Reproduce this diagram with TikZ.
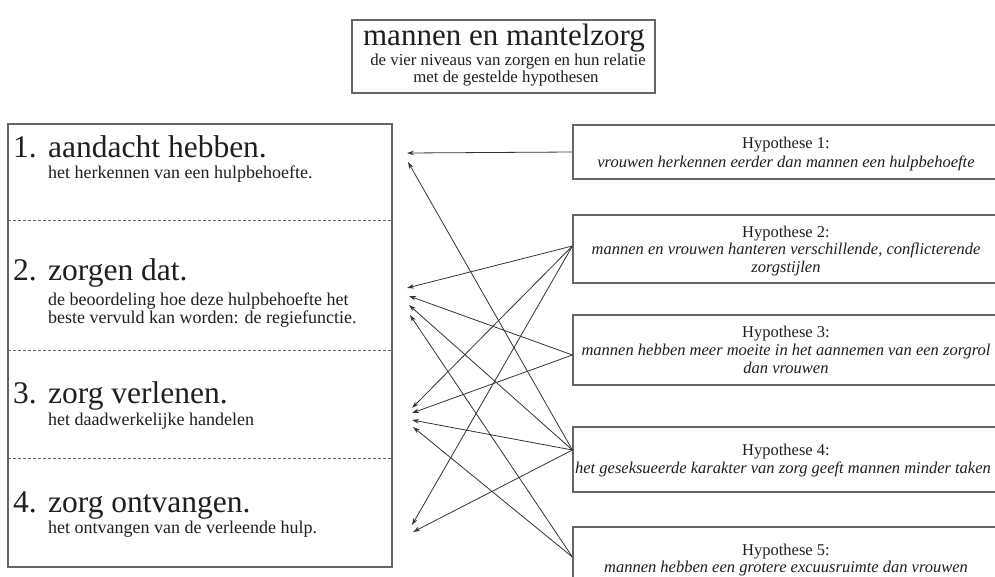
\documentclass[tikz,border=0pt]{standalone}
\usepackage{fontspec}
\setmainfont{Liberation Serif}
\usetikzlibrary{arrows.meta,calc}
\begin{document}
\begin{tikzpicture}[x=1pt,y=-1pt,
  frame/.style={draw=black!60, line width=1.2pt, inner sep=0pt},
  lbl/.style={inner sep=0pt, anchor=base west, text=black!88},
  ctr/.style={inner sep=0pt, anchor=base, text=black!88},
  bigf/.style={font=\fontsize{31.5}{36}\selectfont},
  subf/.style={font=\fontsize{18}{21}\selectfont},
  hypf/.style={font=\fontsize{16.5}{19}\selectfont},
  hypi/.style={font=\fontsize{16.5}{19}\selectfont\itshape},
  link/.style={draw=black!80, line width=0.8pt, -{Stealth[length=7pt,width=4.5pt]}},
  sep/.style={draw=black!60, line width=0.8pt, dash pattern=on 3pt off 2pt}]
\clip (0,0) rectangle (995,576);
\fill[white] (0,0) rectangle (995,576);

% title block
\node[frame, minimum width=303pt, minimum height=73pt] (title) at (503.5,56.5) {};
\node[ctr, font=\fontsize{31}{36}\selectfont] (ttl) at (504,45) {mannen en mantelzorg};
\node[ctr, font=\fontsize{16.8}{20}\selectfont] (st1) at (508,65) {de vier niveaus van zorgen en hun relatie};
\node[ctr, font=\fontsize{16.8}{20}\selectfont] (st2) at (506,82) {met de gestelde hypothesen};

% the four levels of care
\node[frame, minimum width=384pt, minimum height=443pt] (levels) at (200,345.5) {};
\draw[sep] (8,220) -- (392,220);
\draw[sep] (8,350) -- (392,350);
\draw[sep] (8,458) -- (392,458);

\node[lbl,bigf] (n1) at (13,157) {1.};
\node[lbl,bigf] (t1) at (48,157) {aandacht hebben.};
\node[lbl,subf] (s1) at (48,178) {het herkennen van een hulpbehoefte.};

\node[lbl,bigf] (n2) at (13,280) {2.};
\node[lbl,bigf] (t2) at (48,280) {zorgen dat.};
\node[lbl,subf] (s2a) at (48,305) {de beoordeling hoe deze hulpbehoefte het};
\node[lbl,subf] (s2b) at (48,323) {beste vervuld kan worden: de regiefunctie.};

\node[lbl,bigf] (n3) at (13,403) {3.};
\node[lbl,bigf] (t3) at (48,403) {zorg verlenen.};
\node[lbl,subf] (s3) at (48,425) {het daadwerkelijke handelen};

\node[lbl,bigf] (n4) at (13,512) {4.};
\node[lbl,bigf] (t4) at (48,512) {zorg ontvangen.};
\node[lbl,subf] (s4) at (48,533) {het ontvangen van de verleende hulp.};

% hypotheses
\node[frame, minimum width=426pt, minimum height=54pt] (h1) at (786,152) {};
\node[ctr,hypf] (h1a) at (786,148) {Hypothese 1:};
\node[ctr,hypi] (h1b) at (786,167) {vrouwen herkennen eerder dan mannen een hulpbehoefte};

\node[frame, minimum width=426pt, minimum height=68pt] (h2) at (786,249) {};
\node[ctr,hypf] (h2a) at (786,237) {Hypothese 2:};
\node[ctr,hypi] (h2b) at (786,254) {mannen en vrouwen hanteren verschillende, conflicterende};
\node[ctr,hypi] (h2c) at (786,272) {zorgstijlen};

\node[frame, minimum width=426pt, minimum height=70pt] (h3) at (786,350) {};
\node[ctr,hypf] (h3a) at (786,337) {Hypothese 3:};
\node[ctr,hypi] (h3b) at (786,355) {mannen hebben meer moeite in het aannemen van een zorgrol};
\node[ctr,hypi] (h3c) at (786,373) {dan vrouwen};

\node[frame, minimum width=426pt, minimum height=65pt] (h4) at (786,459.5) {};
\node[ctr,hypf] (h4a) at (786,455) {Hypothese 4:};
\node[ctr,hypi] (h4b) at (783,473) {het geseksueerde karakter van zorg geeft mannen minder taken};

\node[frame, minimum width=426pt, minimum height=66pt] (h5) at (786,560) {};
\node[ctr,hypf] (h5a) at (786,555) {Hypothese 5:};
\node[ctr,hypi] (h5b) at (786,572) {mannen hebben een grotere excuusruimte dan vrouwen};

% where the connectors leave the hypothesis boxes
\coordinate (o1) at (h1.west);
\coordinate (o2) at ($(h2.west)+(0,-3)$);
\coordinate (o3) at ($(h3.west)+(0,5)$);
\coordinate (o4) at ($(h4.west)+(0,-9.5)$);
\coordinate (o5) at ($(h5.west)+(0,-3)$);

% where they point at the levels
\coordinate (l1a) at (407,153);
\coordinate (l1b) at (408,162);
\coordinate (l2a) at (407,288);
\coordinate (l2b) at (409,296);
\coordinate (l2c) at (409,305);
\coordinate (l2d) at (410,315);
\coordinate (l3a) at (412,408);
\coordinate (l3b) at (412,413);
\coordinate (l3c) at (412,420);
\coordinate (l3d) at (413,427);
\coordinate (l4a) at (412,525);
\coordinate (l4b) at (413,532);

\draw[link] (o1) -- (l1a);
\draw[link] (o4) -- (l1b);
\draw[link] (o2) -- (l2a);
\draw[link] (o3) -- (l2b);
\draw[link] (o4) -- (l2c);
\draw[link] (o5) -- (l2d);
\draw[link] (o2) -- (l3a);
\draw[link] (o3) -- (l3b);
\draw[link] (o4) -- (l3c);
\draw[link] (o5) -- (l3d);
\draw[link] (o2) -- (l4a);
\draw[link] (o4) -- (l4b);
\end{tikzpicture}
\end{document}
